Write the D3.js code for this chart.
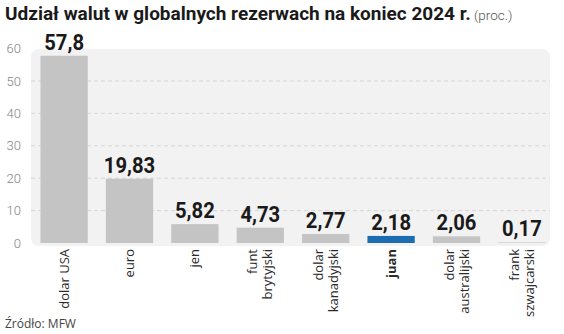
<!DOCTYPE html>
<html>
<head>
<meta charset="utf-8">
<script src="https://cdn.jsdelivr.net/npm/d3@7"></script>
<style>
  html, body { margin: 0; padding: 0; background: #fff; }
  svg { display: block; }
</style>
</head>
<body>
<svg id="chart" width="564" height="334"></svg>
<script>
// Currency shares of global reserves, end of 2024 (%)
const categories = [
  ["dolar USA"],
  ["euro"],
  ["jen"],
  ["funt", "brytyjski"],
  ["dolar", "kanadyjski"],
  ["juan"],
  ["dolar", "australijski"],
  ["frank", "szwajcarski"]
];
const shares = [57.8, 19.83, 5.82, 4.73, 2.77, 2.18, 2.06, 0.17];
const shareLabels = ["57,8", "19,83", "5,82", "4,73", "2,77", "2,18", "2,06", "0,17"];
const highlighted = [false, false, false, false, false, true, false, false];
const yTicks = [0, 10, 20, 30, 40, 50, 60];

const svg = d3.select("#chart");
const body = "'Open Sans', 'Noto Sans', sans-serif";
const head = "Roboto, 'Open Sans', sans-serif";

const x = d3.scaleBand()
  .domain(d3.range(categories.length))
  .range([30, 556])
  .paddingInner(0.277)
  .paddingOuter(0.16);

const y = d3.scaleLinear().domain([0, 60]).range([243, 48.6]);

// title
const title = svg.append("text")
  .attr("x", 5).attr("y", 20)
  .style("font-family", head)
  .style("font-size", "19px");
title.append("tspan")
  .style("font-weight", 700)
  .attr("fill", "#1a1a1a")
  .text("Udział walut w globalnych rezerwach na koniec 2024 r.");
title.append("tspan")
  .attr("fill", "#555")
  .style("font-size", "13.5px")
  .style("font-weight", 300)
  .text(" (proc.)");

// plot panel
svg.append("rect")
  .attr("x", 31).attr("y", 49)
  .attr("width", 519).attr("height", 197)
  .attr("rx", 8)
  .attr("fill", "#f2f2f2");

// grid
svg.append("g")
  .selectAll("line")
  .data(yTicks.filter(d => d > 0 && d < 60))
  .join("line")
  .attr("x1", 31).attr("x2", 550)
  .attr("y1", d => y(d)).attr("y2", d => y(d))
  .attr("stroke", "#d6d6d6")
  .attr("stroke-width", 1)
  .attr("stroke-dasharray", "4,3");

// y axis
const yAxis = svg.append("g")
  .attr("transform", "translate(21,0)")
  .call(d3.axisLeft(y).tickValues(yTicks).tickSize(0).tickPadding(0));
yAxis.select(".domain").remove();
yAxis.selectAll("text")
  .attr("fill", "#858585")
  .style("font-family", head)
  .style("font-size", "13px")
  .style("font-weight", 300);

// bars
svg.append("g")
  .selectAll("rect")
  .data(shares)
  .join("rect")
  .attr("x", (d, i) => x(i))
  .attr("width", x.bandwidth())
  .attr("y", d => y(d))
  .attr("height", d => y(0) - y(d))
  .attr("fill", (d, i) => highlighted[i] ? "#1b6cb0" : "#c4c4c4");

// value labels (slightly condensed)
svg.append("g")
  .selectAll("text")
  .data(shares)
  .join("text")
  .attr("transform", (d, i) => `translate(${x(i) + x.bandwidth() / 2},${y(d) - 6}) scale(0.92,1)`)
  .attr("text-anchor", "middle")
  .attr("fill", "#1a1a1a")
  .style("font-family", head)
  .style("font-weight", 700)
  .style("font-size", "22px")
  .text((d, i) => shareLabels[i]);

// category labels, rotated
const lh = 15;
const cat = svg.append("g")
  .selectAll("text")
  .data(categories)
  .join("text")
  .attr("transform", (d, i) => `translate(${x(i) + x.bandwidth() / 2},249) rotate(-90)`)
  .attr("text-anchor", "end")
  .attr("fill", "#2a2a2a")
  .style("font-family", body)
  .style("font-size", "13px")
  .style("font-weight", (d, i) => highlighted[i] ? 700 : 400);
cat.each(function(lines) {
  const t = d3.select(this);
  lines.forEach((line, k) => {
    t.append("tspan")
      .attr("x", 0)
      .attr("y", (k - (lines.length - 1) / 2) * lh)
      .attr("dy", "0.35em")
      .text(line);
  });
});

// source
svg.append("text")
  .attr("x", 5).attr("y", 328)
  .attr("fill", "#444")
  .style("font-family", body)
  .style("font-size", "12px")
  .text("Źródło: MFW");
</script>
</body>
</html>
